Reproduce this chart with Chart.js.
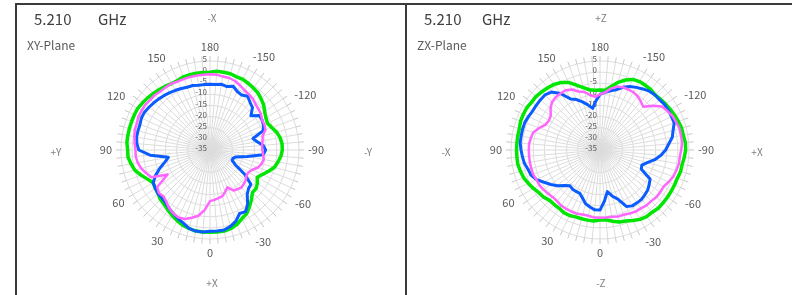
<!DOCTYPE html>
<html>
<head>
<meta charset="utf-8">
<script src="https://cdn.jsdelivr.net/npm/chart.js@4.4.0/dist/chart.umd.min.js"></script>
<style>
  body { margin: 0; width: 792px; height: 295px; background: #fff; position: relative; overflow: hidden;
         font-family: "Noto Sans CJK JP", "Noto Sans", sans-serif; }
  .line { position: absolute; background: #3a3a3a; }
  .cv { position: absolute; top: 6px; height: 289px; }
  .txt { position: absolute; white-space: nowrap; line-height: 1; transform: translateY(-50%); }
  .mid { transform: translate(-50%, -50%); }
  .freq { font-size: 15px; color: #404040; }
  .plane { font-size: 12px; color: #595959; }
  .dir { font-size: 10px; color: #7f7f7f; }
</style>
</head>
<body>
<div class="line" style="left:15px;top:3px;width:777px;height:2px"></div>
<div class="line" style="left:15px;top:3px;width:2px;height:292px"></div>
<div class="line" style="left:405px;top:3px;width:2px;height:292px"></div>

<div class="cv" style="left:17px;width:388px"><canvas id="xy"></canvas></div>
<div class="cv" style="left:407px;width:385px"><canvas id="zx"></canvas></div>

<div class="txt freq" style="left:34px;top:18px">5.210</div>
<div class="txt freq" style="left:98px;top:18px">GHz</div>
<div class="txt plane" style="left:27px;top:45px">XY-Plane</div>
<div class="txt dir mid" style="left:212px;top:18px">-X</div>
<div class="txt dir mid" style="left:56px;top:152px">+Y</div>
<div class="txt dir mid" style="left:368px;top:152px">-Y</div>
<div class="txt dir mid" style="left:212px;top:283px">+X</div>

<div class="txt freq" style="left:424px;top:18px">5.210</div>
<div class="txt freq" style="left:482px;top:18px">GHz</div>
<div class="txt plane" style="left:417px;top:45px">ZX-Plane</div>
<div class="txt dir mid" style="left:601px;top:18px">+Z</div>
<div class="txt dir mid" style="left:446px;top:152px">-X</div>
<div class="txt dir mid" style="left:757px;top:152px">+X</div>
<div class="txt dir mid" style="left:601px;top:283px">-Z</div>

<script>
// angles, clockwise from the top (180 at top, -90 right, 0 bottom, 90 left)
const angles = [180, -175, -170, -165, -160, -155, -150, -145, -140, -135, -130, -125,
  -120, -115, -110, -105, -100, -95, -90, -85, -80, -75, -70, -65,
  -60, -55, -50, -45, -40, -35, -30, -25, -20, -15, -10, -5,
  0, 5, 10, 15, 20, 25, 30, 35, 40, 45, 50, 55,
  60, 65, 70, 75, 80, 85, 90, 95, 100, 105, 110, 115,
  120, 125, 130, 135, 140, 145, 150, 155, 160, 165, 170, 175];
const tickValues = [5, 0, -5, -10, -15, -20, -25, -30, -35];

// XY-Plane (dBi)
const xyTotal = [0, 0.5, 0.5, 0.5, 0, 0, -0.5, -1, -1.5, -2.5, -3.5, -5,
  -6, -6.5, -5.5, -4, -3, -2.5, -2.5, -3, -4, -5, -7, -9,
  -10.5, -9, -8, -8, -6, -4, -2, -1, 0.5, 1.5, 2, 2,
  2, 2, 2, 1.5, 1, 0, -1, -2, -3, -3.5, -4.5, -5,
  -5.5, -4, -2, 0, 1, 2, 2, 2.5, 2.5, 2.5, 2.5, 2.5,
  2.5, 2, 1.5, 1, 0.5, 0, -0.5, -0.5, 0, 0, 0, 0];
const xyHor = [-5.5, -5.5, -5, -5.5, -4.5, -6, -6.5, -5.5, -7, -8, -11, -8,
  -8, -8.5, -9.5, -15, -13.5, -11, -10, -11, -18, -23, -24, -24,
  -22, -16, -11, -10.5, -9, -5.5, -3, -3.5, -1, 0.5, 1.5, 1.5,
  1.5, 2, 2, 1.5, 0, -1, -2, -3, -4, -4.5, -4.5, -5,
  -5.5, -8, -11, -14, -16, -8, -3, -2, -1.5, -1.5, -1.5, -1,
  -1, -1.5, -2, -2.5, -3, -3.5, -4, -4.5, -5, -5, -5.5, -5.5];
const xyVer = [-1, -1, -1.5, -1.5, -2, -3, -4, -4.5, -5, -6, -6.5, -7,
  -8, -8, -8.5, -10.5, -11, -11.5, -11.5, -11, -10.5, -11, -12, -14,
  -15, -15, -14, -13.5, -13, -13.5, -14, -16.5, -15, -13.5, -13, -12.5,
  -12, -8, -5, -3.5, -2, -1.5, -2, -3, -4.5, -5.5, -5, -6,
  -13, -6, -4.5, -3, -2, -1.5, -1.5, -1, -0.5, 0, 0, 0.5,
  0.5, 0.5, 0, 0, -0.5, -0.5, -0.5, -1, -1, -1, -1, -1];

// ZX-Plane (dBi)
const zxTotal = [-8, -8, -6, -3.5, -1.5, 0, 0.5, 0.5, 0.5, 0, 0.5, 1,
  1.5, 2, 2.5, 3, 3, 3.5, 3.5, 3, 2.5, 2.5, 2, 2,
  2, 2, 2, 2, 1.5, 1.5, 1, 0, -1, -1.5, -2.5, -3.5,
  -3.5, -3, -3, -3, -3, -2.5, -2.5, -3, -3, -3, -2, -1.5,
  -0.5, 0.5, 1.5, 2, 2.5, 2.5, 2.5, 2.5, 2.5, 2.5, 3, 3,
  3, 2.5, 2.5, 2, 1.5, 1, 0, -1.5, -4, -6, -7.5, -8];
const zxHor = [-10, -9, -8, -7, -5, -3.5, -2.5, -1.5, -0.5, 0, 0, 0.5,
  0.5, 0.5, 0.5, -1, -2, -4, -5.5, -7.5, -10, -13, -15, -14.5,
  -9, -8, -7, -6.5, -6, -6, -6, -7, -11.5, -13.5, -16, -12,
  -8, -8, -9, -10, -12, -13.5, -13.5, -13.5, -14, -12.5, -10, -8,
  -6, -3.5, -2, -1.5, -0.5, 0, 0.5, 1, 1, 1, 1, 0.5,
  0, 0, 0, 0, -1, -4, -8.5, -10, -12, -14, -16, -13];
const zxVer = [-10, -9, -7, -5.5, -5, -5, -5, -5.5, -6.5, -7.5, -4, -1,
  0, 1, 1.5, 2, 2, 2, 1.5, 1, 1, 0.5, 0, -1,
  -2, -2, -2, -2.5, -2.5, -3, -3, -3.5, -4, -4, -4.5, -4.5,
  -4.5, -4.5, -5, -5, -4.5, -4.5, -4.5, -4.5, -5, -5, -4.5, -4,
  -3.5, -3.5, -3, -3, -3, -3, -3, -3, -3.5, -4, -6, -8,
  -8.5, -8, -6, -4.5, -4, -4, -4, -5, -7, -8, -10, -11];

const GREEN = '#00e600', BLUE = '#0a5cff', PINK = '#ff66ff';
const LABEL_FONT = '"Noto Sans CJK JP", "Noto Sans", sans-serif';

// outer tick marks, radial value labels and angle labels
const polarDecor = {
  id: 'polarDecor',
  beforeDatasetsDraw(chart) {
    const s = chart.scales.r;
    const ctx = chart.ctx;
    const R = s.drawingArea;
    ctx.save();
    ctx.strokeStyle = '#c8c8c8';
    ctx.lineWidth = 1;
    for (let i = 0; i < chart.data.labels.length; i++) {
      const p1 = s.getPointPosition(i, R);
      const p2 = s.getPointPosition(i, R + 5);
      ctx.beginPath();
      ctx.moveTo(p1.x, p1.y);
      ctx.lineTo(p2.x, p2.y);
      ctx.stroke();
    }
    ctx.font = '8px ' + LABEL_FONT;
    ctx.fillStyle = '#595959';
    ctx.textAlign = 'right';
    ctx.textBaseline = 'middle';
    tickValues.forEach(v => {
      const d = s.getDistanceFromCenterForValue(v);
      ctx.fillText(String(v), s.xCenter - 3, s.yCenter - d - 2);
    });
    ctx.restore();
  },
  afterDraw(chart) {
    const s = chart.scales.r;
    const ctx = chart.ctx;
    const R = s.drawingArea;
    ctx.save();
    ctx.font = '11px ' + LABEL_FONT;
    ctx.fillStyle = '#595959';
    ctx.textAlign = 'center';
    ctx.textBaseline = 'middle';
    chart.data.labels.forEach((lab, i) => {
      if (lab % 30 !== 0) return;
      const phi = i * 5 * Math.PI / 180;
      const w = ctx.measureText(String(lab)).width;
      const off = 9 + 5 * Math.abs(Math.cos(phi)) + (w / 2) * Math.abs(Math.sin(phi));
      const p = s.getPointPosition(i, R + off);
      ctx.fillText(String(lab), p.x, p.y);
    });
    ctx.restore();
  }
};

function makePolar(id, total, hor, ver, pad) {
  new Chart(document.getElementById(id), {
    type: 'radar',
    data: {
      labels: angles,
      datasets: [
        { label: 'Ver', data: ver, borderColor: PINK, borderWidth: 2.5, order: 1 },
        { label: 'Hor', data: hor, borderColor: BLUE, borderWidth: 3, order: 2 },
        { label: 'Total', data: total, borderColor: GREEN, borderWidth: 3.5, order: 3 }
      ]
    },
    options: {
      animation: false,
      responsive: true,
      maintainAspectRatio: false,
      layout: { padding: pad },
      elements: {
        point: { radius: 0, hoverRadius: 0 },
        line: { tension: 0, fill: false, borderJoinStyle: 'round' }
      },
      plugins: { legend: { display: false }, tooltip: { enabled: false } },
      scales: {
        r: {
          min: -35,
          max: 5,
          startAngle: 0,
          ticks: { display: false, stepSize: 5 },
          grid: { color: '#dcdcdc', lineWidth: 1 },
          angleLines: { color: '#dcdcdc', lineWidth: 1 },
          pointLabels: { display: false }
        }
      }
    },
    plugins: [polarDecor]
  });
}

makePolar('xy', xyTotal, xyHor, xyVer, { left: 104, right: 106, top: 55, bottom: 56 });
makePolar('zx', zxTotal, zxHor, zxVer, { left: 104, right: 103, top: 55, bottom: 56 });
</script>
</body>
</html>
